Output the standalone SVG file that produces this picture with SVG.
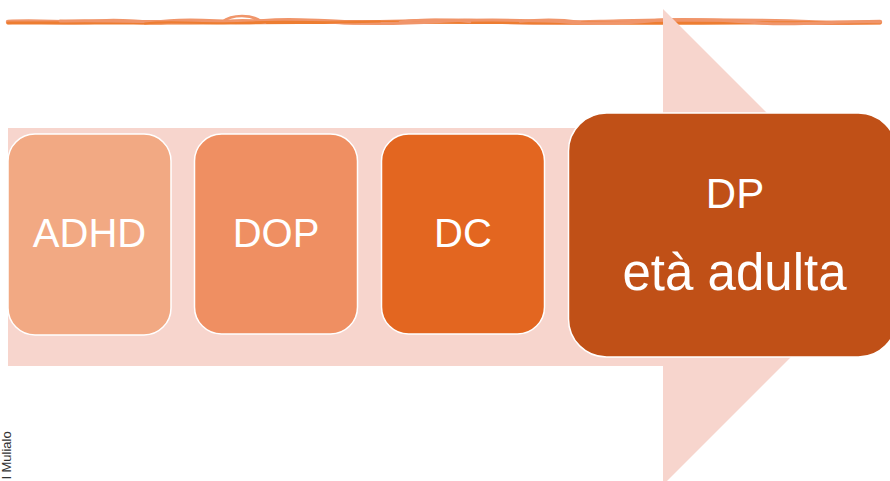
<svg xmlns="http://www.w3.org/2000/svg" width="890" height="481" viewBox="0 0 890 481">
  <style>
    .band { fill: #F7D5CD; }
    .step { stroke: #FFFFFF; stroke-width: 1.5; }
    .label { font-family: "Liberation Sans", Arial, sans-serif; fill: #FFFFFF; text-anchor: middle; }
    .wave { fill: none; stroke-linecap: round; }
  </style>
  <rect width="890" height="481" fill="#FFFFFF"/>

  <!-- hand-drawn rule across the top -->
  <g id="rule">
    <path class="wave" stroke="#F0956A" stroke-width="4.5" d="M8 22 C40 20.5 70 23.5 100 21.5 S140 24.5 170 21.5 S230 24 260 21.5 S300 20.5 340 22 S420 20 470 21 S540 23.5 600 22 S680 19.5 760 21 S820 24 880 22"/>
    <path class="wave" stroke="#ED7D31" stroke-width="3.2" d="M8 23 C120 22 200 23.5 300 22.5 S480 22 600 23 S760 22 880 23"/>
    <path class="wave" stroke="#F0956A" stroke-width="3" d="M60 21 C120 19 180 25 240 21.5 C270 20.5 300 19.5 330 22 C360 24 400 24 440 21.5 S520 20 560 21.5 C580 24 620 24 650 21 S720 20 760 23 S840 20.5 880 22"/>
    <path class="wave" stroke="#F0956A" stroke-width="2.6" d="M222 22 C232 14 252 14 262 22 C250 20 235 20 222 22"/>
    <path class="wave" stroke="#ED7D31" stroke-width="2" d="M145 23.5 C170 20 210 25 250 22.5 S330 24 380 21.5"/>
    <path class="wave" stroke="#F0956A" stroke-width="2.5" d="M400 22 C420 19 450 19 470 22 M520 21.5 C540 19 560 19 580 22"/>
  </g>

  <!-- background arrow -->
  <g id="arrow">
    <rect class="band" x="8" y="128" width="656" height="238"/>
    <polygon class="band" points="663,9 901,247 663,485"/>
  </g>

  <g id="node-adhd">
    <rect class="step" x="8" y="134" width="163" height="201" rx="27" fill="#F2A983"/>
    <text class="label" x="89.5" y="247" font-size="40">ADHD</text>
  </g>

  <g id="node-dop">
    <rect class="step" x="194.5" y="134" width="163" height="200" rx="27" fill="#EF8F62"/>
    <text class="label" x="276" y="247" font-size="40">DOP</text>
  </g>

  <g id="node-dc">
    <rect class="step" x="381.5" y="134" width="163" height="200" rx="27" fill="#E36620"/>
    <text class="label" x="463" y="247" font-size="40">DC</text>
  </g>

  <g id="node-dp">
    <rect class="step" x="568.5" y="113" width="328" height="244" rx="38" fill="#C05017"/>
    <text class="label" x="735" y="208" font-size="42">DP</text>
    <text class="label" x="734.5" y="290" font-size="51">età adulta</text>
  </g>

  <!-- credit along the left margin -->
  <text x="11" y="479" transform="rotate(-90 11 479)" font-family="'Liberation Sans', Arial, sans-serif" font-size="13" fill="#333333">l Mulialo</text>

  <g id="connectors"/>
</svg>
